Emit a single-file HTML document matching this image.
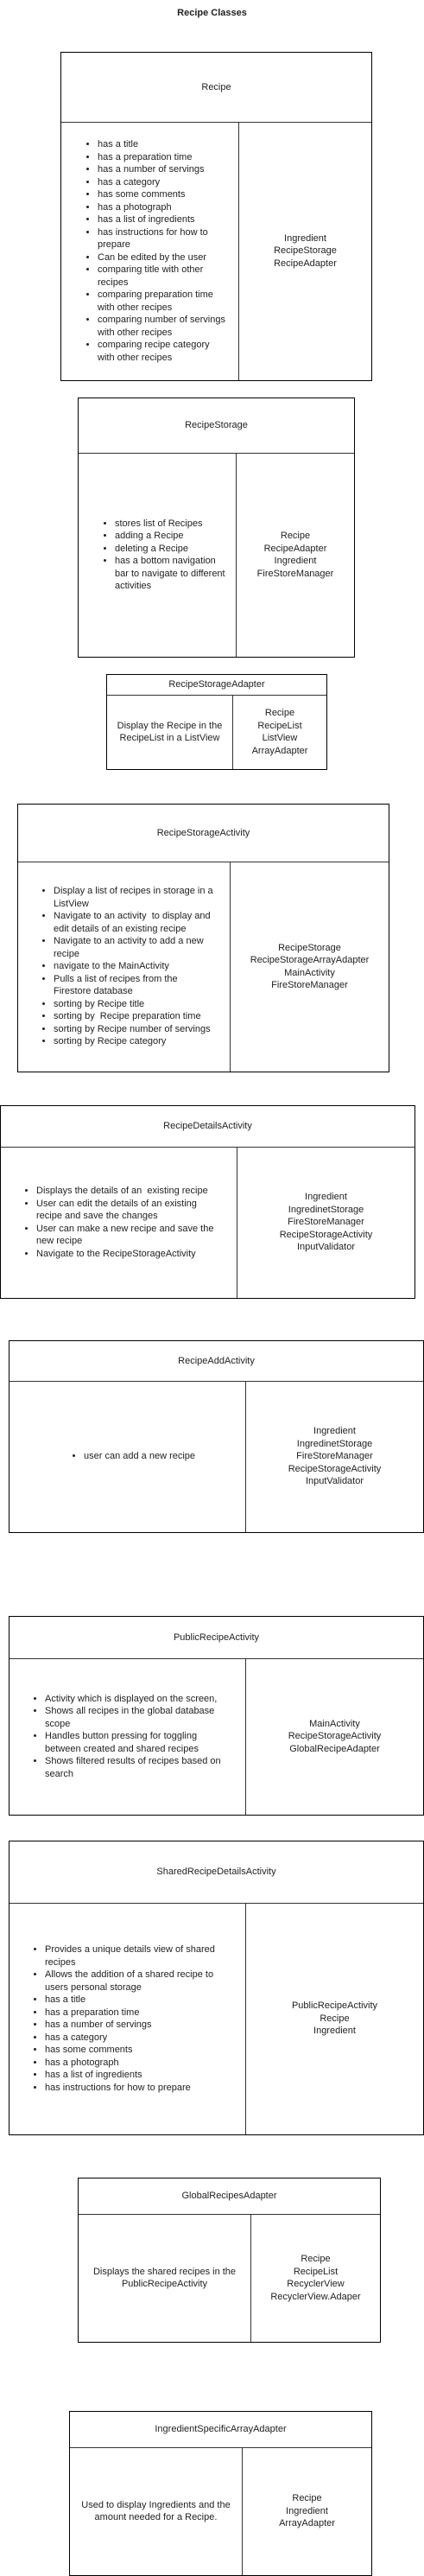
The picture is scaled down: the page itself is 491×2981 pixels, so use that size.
<!DOCTYPE html>
<html><head><meta charset="utf-8"><style>
body{margin:0;width:491px;height:2981px;position:relative;background:#fff;font-family:"Liberation Sans",sans-serif;font-size:11px;color:#222;line-height:14.5px}
.box{position:absolute;border:1px solid #000;box-sizing:border-box}
.h{position:absolute;left:0;right:0;top:0;border-bottom:1px solid #333;display:flex;align-items:center;justify-content:center;box-sizing:border-box}
.c{position:absolute;bottom:0;display:flex;align-items:center;box-sizing:border-box;white-space:nowrap}
.l{left:0;justify-content:flex-start}
.lc{left:0;justify-content:center;text-align:center}
.r{right:0;justify-content:center;text-align:center;border-left:1px solid #333}
ul{margin:0;padding:0;list-style:disc}
.t{position:absolute;left:0;width:491px;top:8px;text-align:center;font-weight:bold;font-size:11px}
</style></head><body>
<div class="t">Recipe Classes</div>

<div class="box" style="left:70px;top:60px;width:361px;height:381px">
<div class="h" style="height:81px">Recipe</div>
<div class="c l" style="top:80px;width:205px"><ul style="padding-left:42px">
<li>has a title</li><li>has a preparation time</li><li>has a number of servings</li><li>has a category</li><li>has some comments</li><li>has a photograph</li><li>has a list of ingredients</li><li>has instructions for how to<br>prepare</li><li>Can be edited by the user</li><li>comparing title with other<br>recipes</li><li>comparing preparation time<br>with other recipes</li><li>comparing number of servings<br>with other recipes</li><li>comparing recipe category<br>with other recipes</li></ul></div>
<div class="c r" style="top:80px;left:205px">Ingredient<br>RecipeStorage<br>RecipeAdapter</div>
</div>

<div class="box" style="left:90px;top:460px;width:321px;height:301px">
<div class="h" style="height:64px">RecipeStorage</div>
<div class="c l" style="top:63px;width:182px"><ul style="padding-left:42px">
<li>stores list of Recipes</li><li>adding a Recipe</li><li>deleting a Recipe</li><li>has a bottom navigation<br>bar to navigate to different<br>activities</li></ul></div>
<div class="c r" style="top:63px;left:182px">Recipe<br>RecipeAdapter<br>Ingredient<br>FireStoreManager</div>
</div>

<div class="box" style="left:123px;top:780px;width:256px;height:111px">
<div class="h" style="height:24px">RecipeStorageAdapter</div>
<div class="c lc" style="top:23px;width:145px">Display the Recipe in the<br>RecipeList in a ListView</div>
<div class="c r" style="top:23px;left:145px">Recipe<br>RecipeList<br>ListView<br>ArrayAdapter</div>
</div>

<div class="box" style="left:20px;top:930px;width:431px;height:311px">
<div class="h" style="height:67px">RecipeStorageActivity</div>
<div class="c l" style="top:66px;width:245px"><ul style="padding-left:41px">
<li>Display a list of recipes in storage in a<br>ListView</li><li>Navigate to an activity&nbsp; to display and<br>edit details of an existing recipe</li><li>Navigate to an activity to add a new<br>recipe</li><li>navigate to the MainActivity</li><li>Pulls a list of recipes from the<br>Firestore database</li><li>sorting by Recipe title</li><li>sorting by&nbsp; Recipe preparation time</li><li>sorting by Recipe number of servings</li><li>sorting by Recipe category</li></ul></div>
<div class="c r" style="top:66px;left:245px">RecipeStorage<br>RecipeStorageArrayAdapter<br>MainActivity<br>FireStoreManager</div>
</div>

<div class="box" style="left:0px;top:1279px;width:481px;height:224px">
<div class="h" style="height:48px">RecipeDetailsActivity</div>
<div class="c l" style="top:47px;width:273px"><ul style="padding-left:41px">
<li>Displays the details of an&nbsp; existing recipe</li><li>User can edit the details of an existing<br>recipe and save the changes</li><li>User can make a new recipe and save the<br>new recipe</li><li>Navigate to the RecipeStorageActivity</li></ul></div>
<div class="c r" style="top:47px;left:273px">Ingredient<br>IngredinetStorage<br>FireStoreManager<br>RecipeStorageActivity<br>InputValidator</div>
</div>

<div class="box" style="left:10px;top:1551px;width:481px;height:223px">
<div class="h" style="height:47px">RecipeAddActivity</div>
<div class="c l" style="top:46px;width:273px"><ul style="padding-left:86px"><li>user can add a new recipe</li></ul></div>
<div class="c r" style="top:46px;left:273px">Ingredient<br>IngredinetStorage<br>FireStoreManager<br>RecipeStorageActivity<br>InputValidator</div>
</div>

<div class="box" style="left:10px;top:1870px;width:481px;height:231px">
<div class="h" style="height:49px">PublicRecipeActivity</div>
<div class="c l" style="top:48px;width:273px"><ul style="padding-left:41px">
<li>Activity which is displayed on the screen,</li><li>Shows all recipes in the global database<br>scope</li><li>Handles button pressing for toggling<br>between created and shared recipes</li><li>Shows filtered results of recipes based on<br>search</li></ul></div>
<div class="c r" style="top:48px;left:273px">MainActivity<br>RecipeStorageActivity<br>GlobalRecipeAdapter</div>
</div>

<div class="box" style="left:10px;top:2130px;width:481px;height:341px">
<div class="h" style="height:72px">SharedRecipeDetailsActivity</div>
<div class="c l" style="top:71px;width:273px"><ul style="padding-left:41px">
<li>Provides a unique details view of shared<br>recipes</li><li>Allows the addition of a shared recipe to<br>users personal storage</li><li>has a title</li><li>has a preparation time</li><li>has a number of servings</li><li>has a category</li><li>has some comments</li><li>has a photograph</li><li>has a list of ingredients</li><li>has instructions for how to prepare</li></ul></div>
<div class="c r" style="top:71px;left:273px">PublicRecipeActivity<br>Recipe<br>Ingredient</div>
</div>

<div class="box" style="left:90px;top:2520px;width:351px;height:191px">
<div class="h" style="height:42px">GlobalRecipesAdapter</div>
<div class="c lc" style="top:41px;width:199px">Displays the shared recipes in the<br>PublicRecipeActivity</div>
<div class="c r" style="top:41px;left:199px">Recipe<br>RecipeList<br>RecyclerView<br>RecyclerView.Adaper</div>
</div>

<div class="box" style="left:80px;top:2790px;width:351px;height:191px">
<div class="h" style="height:42px">IngredientSpecificArrayAdapter</div>
<div class="c lc" style="top:41px;width:199px">Used to display Ingredients and the<br>amount needed for a Recipe.</div>
<div class="c r" style="top:41px;left:199px">Recipe<br>Ingredient<br>ArrayAdapter</div>
</div>
</body></html>
